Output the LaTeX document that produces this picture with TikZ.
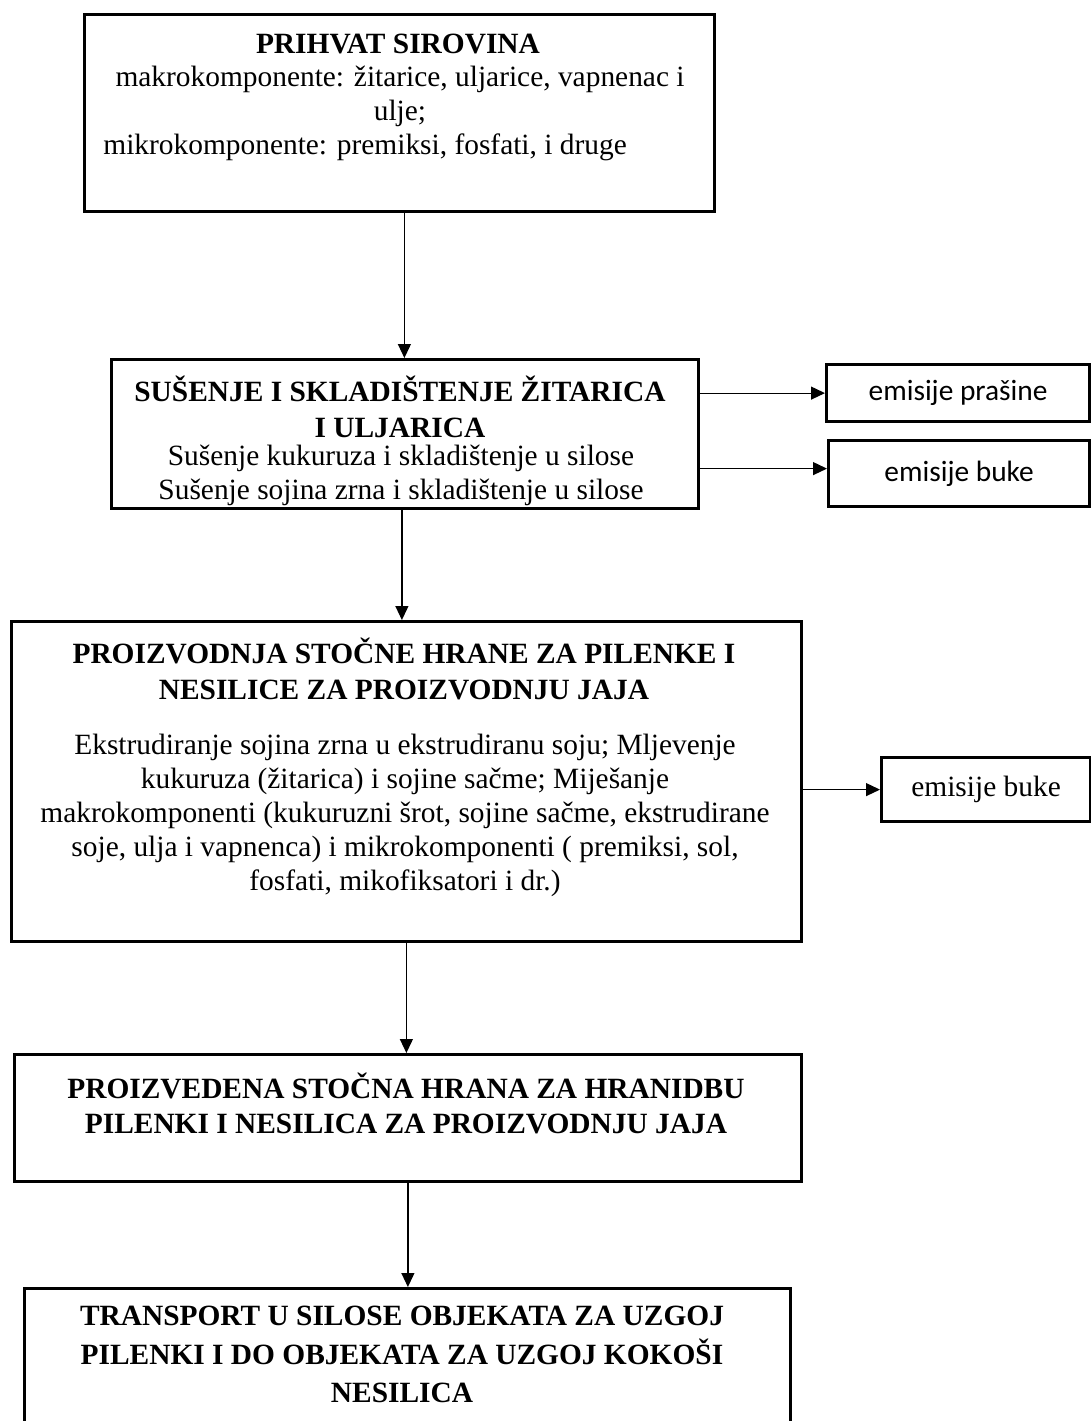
\documentclass[tikz,border=0pt]{standalone}
\usepackage{fontspec}
\setmainfont{Liberation Serif}
\newfontfamily\calibrifont{Carlito}
\usetikzlibrary{arrows.meta}
\tikzset{
  stepbox/.style={draw, line width=1.4pt, inner sep=0pt},
  sidebox/.style={draw, line width=1.6pt, inner sep=0pt},
  title/.style={font=\bfseries\fontsize{14.7}{17.75}\selectfont, align=center, inner sep=0pt},
  body/.style={font=\fontsize{14.7}{17}\selectfont, align=center, inner sep=0pt},
  flow/.style={-{Triangle[length=7pt,width=6.5pt]}, line width=0.6pt},
}
\begin{document}
\begin{tikzpicture}[x=0.5pt,y=-0.5pt]
\useasboundingbox (0,0) rectangle (1091,1421);
% glavni koraci
\node[stepbox, anchor=north west, minimum width=315pt, minimum height=98.5pt] (prihvat) at (83,13) {};
\node[stepbox, anchor=north west, minimum width=293.5pt, minimum height=74.5pt] (susenje) at (110,358) {};
\node[stepbox, anchor=north west, minimum width=395pt, minimum height=160pt] (proizvodnja) at (10,620) {};
\node[stepbox, anchor=north west, minimum width=393.5pt, minimum height=63.5pt] (proizvedena) at (13,1053) {};
\node[stepbox, anchor=north west, minimum width=383pt, minimum height=106.5pt] (transport) at (23,1287) {};
% emisije
\node[sidebox, anchor=north west, minimum width=131.5pt, minimum height=28.5pt, font=\calibrifont\fontsize{14.7}{16}\selectfont] (prasina) at (825,363) {emisije prašine};
\node[sidebox, anchor=north west, minimum width=130.5pt, minimum height=33pt, font=\calibrifont\fontsize{14.7}{16}\selectfont] (buka) at (827,439) {emisije buke};
\node[sidebox, anchor=north west, minimum width=104.5pt, minimum height=32pt, font=\fontsize{14.7}{16}\selectfont] (bukadva) at (880,756) {emisije buke};
% tekstovi
\node[title] (prihvatnaslov) at (398,44) {PRIHVAT SIROVINA};
\node[body] (prihvattekst) at (400,96) {makrokomponente: žitarice, uljarice, vapnenac i\\ulje;};
\node[body, anchor=west] (prihvatmikro) at (103,147) {mikrokomponente: premiksi, fosfati, i druge};
\node[title] (susenjenaslov) at (400,407) {SUŠENJE I SKLADIŠTENJE ŽITARICA\\I ULJARICA};
\node[body] (susenjetekst) at (401,475) {Sušenje kukuruza i skladištenje u silose\\Sušenje sojina zrna i skladištenje u silose};
\node[title] (proizvodnjanaslov) at (404,669) {PROIZVODNJA STOČNE HRANE ZA PILENKE I\\NESILICE ZA PROIZVODNJU JAJA};
\node[body] (proizvodnjatekst) at (405,815.5) {Ekstrudiranje sojina zrna u ekstrudiranu soju; Mljevenje\\kukuruza (žitarica) i sojine sačme; Miješanje\\makrokomponenti (kukuruzni šrot, sojine sačme, ekstrudirane\\soje, ulja i vapnenca) i mikrokomponenti ( premiksi, sol,\\fosfati, mikofiksatori i dr.)};
\node[title] (proizvedenanaslov) at (406,1103.5) {PROIZVEDENA STOČNA HRANA ZA HRANIDBU\\PILENKI I NESILICA ZA PROIZVODNJU JAJA};
\node[title, font=\bfseries\fontsize{14.7}{19.25}\selectfont] (transportnaslov) at (402,1354.5) {TRANSPORT U SILOSE OBJEKATA ZA UZGOJ\\PILENKI I DO OBJEKATA ZA UZGOJ KOKOŠI\\NESILICA};
% strelice
\draw[flow] ([xshift=2.5pt]prihvat.south) -- ([xshift=2.5pt]prihvat.south |- susenje.north);
\draw[flow] ([xshift=-1.5pt]susenje.south) -- ([xshift=-1.5pt]susenje.south |- proizvodnja.north);
\draw[flow] (proizvodnja.south) -- (proizvodnja.south |- proizvedena.north);
\draw[flow] (proizvedena.south) -- (proizvedena.south |- transport.north);
\draw[flow] (susenje.east |- prasina) -- (prasina.west);
\draw[flow] ([yshift=2.5pt]susenje.east |- buka) -- ([yshift=2.5pt]buka.west);
\draw[flow] (proizvodnja.east |- bukadva) -- (bukadva.west);
\end{tikzpicture}
\end{document}
